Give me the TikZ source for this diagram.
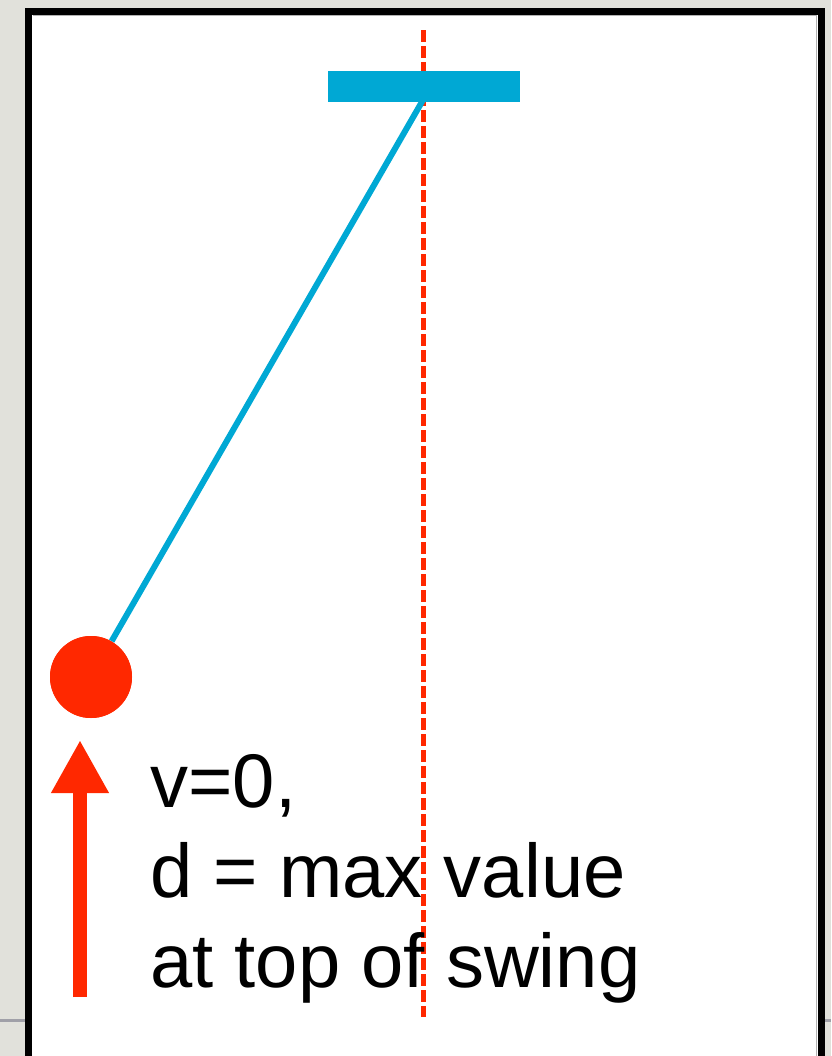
\documentclass[tikz,border=0pt]{standalone}
\usepackage{fontspec}
\setmainfont{Liberation Sans}
\usepackage{tikz}
\usetikzlibrary{arrows.meta, positioning}
\definecolor{linen}{RGB}{225,225,219}
\definecolor{seam}{RGB}{160,160,168}
\definecolor{barblue}{RGB}{0,168,212}
\definecolor{bobred}{RGB}{255,40,0}

\begin{document}
\begin{tikzpicture}[
	x=0.5pt, y=-0.5pt,
	frame/.style={draw=black, fill=white, line width=3.5pt},
	guide/.style={draw=bobred, line width=2.5pt, dash pattern=on 6pt off 2pt},
	rod/.style={draw=barblue, line width=3pt},
	mass/.style={circle, fill=bobred, minimum size=41pt, inner sep=0pt},
	push/.style={draw=bobred, line width=7pt, -{Triangle[length=26.5pt, width=27pt]}},
	label/.style={anchor=base west, inner sep=0pt, font=\fontsize{38}{45}\selectfont},
	]
	
	\useasboundingbox (0,0) rectangle (831,1056);
	\clip (0,0) rectangle (831,1056);
	\fill[linen] (0,0) rectangle (831,1056);
	\draw[seam, line width=1.5pt] (0,1020) -- (831,1020);
	\draw[frame] (28.5,11) rectangle (821,1080);
	\draw[gray!60, line width=0.75pt] (33,15.5) -- (816.5,15.5);
	\draw[gray!60, line width=0.75pt] (816.5,15.5) -- (816.5,1080);
	
	% vertical reference through the pivot
	\coordinate (top) at (423,30);
	\coordinate (bottom) at (423,1017);
	\draw[guide] (top) -- (bottom);
	
	% support bar and pendulum
	\fill[barblue] (328,71) rectangle (520,102);
	\coordinate (pivot) at (423,100);
	\node[mass] (bob) at (91,677) {};
	\draw[rod] (pivot) -- (bob);
	\node[mass] at (bob) {};
	
	% velocity arrow
	\coordinate (tail) at (80,997);
	\coordinate (tip) at (80,740);
	\draw[push] (tail) -- (tip);
	
	\node[label] (l1) at (150,807) {v=0,};
	\node[label] (l2) at (150,897) {d = max value};
	\node[label] (l3) at (150,987) {at top of swing};
	
\end{tikzpicture}
\end{document}
